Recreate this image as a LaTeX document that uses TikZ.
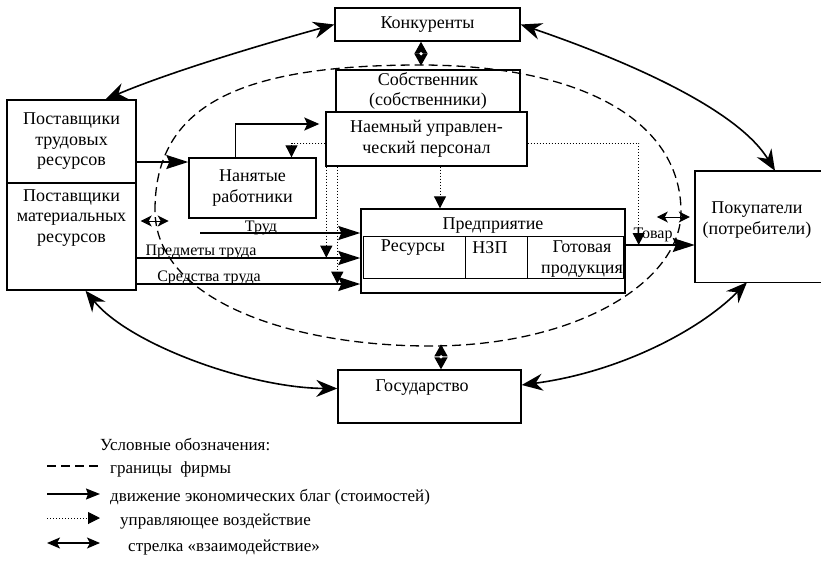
\documentclass[tikz,border=0pt]{standalone}
\usepackage{fontspec}
\setmainfont{Liberation Serif}
\usetikzlibrary{arrows.meta,calc}
\newcommand\mfont{\fontsize{18}{20.5}\selectfont}
\newcommand\lfont{\fontsize{16}{18}\selectfont}
\newcommand\gfont{\fontsize{17}{19}\selectfont}
\begin{document}
\begin{tikzpicture}[x=1pt,y=-1pt,
  box/.style={draw, line width=1.4pt, inner sep=0pt, align=center, font=\mfont},
  txt/.style={inner sep=0pt, align=center, font=\mfont},
  lab/.style={inner sep=0pt, anchor=base, font=\lfont},
  leg/.style={inner sep=0pt, anchor=west, font=\gfont},
  goods/.style={line width=1.4pt, -{Stealth[length=22pt,width=14pt,inset=3pt]}},
  goodsS/.style={line width=1.4pt, -{Stealth[length=15pt,width=13pt,inset=3pt]}},
  ctrl/.style={dotted, line width=1pt, -{Triangle[length=12pt,width=12pt]}},
  inter/.style={line width=1.6pt, {Stealth[length=21pt,width=17pt,inset=7pt]}-{Stealth[length=21pt,width=17pt,inset=7pt]}},
  interS/.style={line width=1pt, {Stealth[length=11pt,width=11pt,inset=3pt]}-{Stealth[length=11pt,width=11pt,inset=3pt]}},
  dia/.style={line width=1.4pt, {Triangle[length=12pt,width=13pt]}-{Triangle[length=12pt,width=13pt]}},
  border/.style={dash pattern=on 9pt off 5pt, line width=1.3pt}]
\useasboundingbox (0,0) rectangle (821,570);

% firm boundary
\draw[border] (155,210) .. controls (155,105) and (240,65) .. (420,65)
  .. controls (580,65) and (681,120) .. (681,212)
  .. controls (681,280) and (580,346) .. (430,346)
  .. controls (290,346) and (155,300) .. (155,210);

% boxes
\node[box, minimum width=185, minimum height=33] (konk) at (427.5,24.5) {Конкуренты};
\node[box, minimum width=184, minimum height=42] (sob) at (428,91) {Собственник\\(собственники)};
\node[box, fill=white, minimum width=201, minimum height=54] (nup) at (426.5,139) {Наемный управлен-\\ческий персонал};
\node[box, minimum width=129, minimum height=83] (pt) at (71.5,141.5) {Поставщики\\трудовых\\ресурсов};
\node[box, minimum width=129, minimum height=107] (pm) at (71.5,236.5) {};
\node[txt] (pmt) at (71.5,218) {Поставщики\\материальных\\ресурсов};
\node[box, minimum width=127, minimum height=60] (nr) at (252.5,188) {Нанятые\\работники};
\node[box, minimum width=264, minimum height=84] (pr) at (493,251) {};
\node[txt] (prt) at (493,226) {Предприятие};
\draw[line width=1pt] (363,236) rectangle (623,278);
\draw[line width=1pt] (465,236) -- (465,278) (527,236) -- (527,278);
\node[txt] (res) at (413,248) {Ресурсы};
\node[txt] (nzp) at (490,248) {НЗП};
\node[txt] (gp) at (582,259) {Готовая\\продукция};
\node[minimum width=126, minimum height=111, inner sep=0pt] (buy) at (758,226.5) {};
\draw[line width=1.4pt] (buy.north east) -- (buy.north west) -- (buy.south west) -- (buy.south east);
\node[txt] (buyt) at (757,220) {Покупатели\\(потребители)};
\node[box, minimum width=183, minimum height=53] (gos) at (429.5,396.5) {};
\node[txt] (gost) at (422,388) {Государство};

% goods flows
\draw[goods] ($(pt.east)+(0,20.5)$) coordinate (a1) -- (a1 -| nr.west);
\draw[goodsS, shorten >=6pt] ($(nr.north)+(-17,0)$) |- ($(nup.west)+(0,-15)$);
\coordinate (trud) at (200,233);
\draw[goods] (trud) -- (trud -| pr.west);
\draw[goods] ($(pm.east)+(0,21.5)$) coordinate (pd) -- (pd -| pr.west);
\draw[goods] ($(pm.east)+(0,47.5)$) coordinate (sd) -- (sd -| pr.west);
\draw[goods] ($(pr.east)+(0,-6)$) coordinate (tv) -- (tv -| buy.west);
\node[lab] (ltrud) at (261,231) {Труд};
\node[lab] (lpd) at (201,255) {Предметы труда};
\node[lab] (lsd) at (209,281) {Средства труда};
\node[lab] (ltv) at (653,238) {Товар};

% control
\draw[ctrl] ($(nup.west)+(0,4)$) -| ($(nr.north)+(39,0)$);
\draw[ctrl] ($(nup.south west)+(1,0)$) -- ++(0,91);
\draw[ctrl] ($(nup.south west)+(12,0)$) -- ++(0,117);
\draw[ctrl] ($(nup.south)+(13.5,0)$) coordinate (d3) -- (d3 |- pr.north);
\draw[ctrl] ($(nup.east)+(0,4)$) -| ($(tv)+(13,0)$);

% interaction
\draw[inter] (konk.west) .. controls (260,45) and (170,72) .. ($(pt.north)+(34,0)$);
\draw[inter] (konk.east) .. controls (610,55) and (735,105) .. ($(buy.north)+(17,0)$);
\draw[inter] ($(pm.south)+(14,0)$) .. controls (130,345) and (250,388) .. ($(gos.west)+(0,-8)$);
\draw[inter] ($(gos.east)+(0,-11.5)$) .. controls (620,372) and (700,330) .. ($(buy.south)+(-11,0)$);
\draw[dia] ($(konk.south)+(-6.5,0)$) -- ++(0,24);
\fill[white] ($(konk.south)+(-6.5,12)$) circle (1.8);
\draw[dia] ($(gos.north)+(11.5,0)$) -- ++(0,-25);
\fill[white] ($(gos.north)+(11.5,-12.5)$) circle (1.8);
\draw[interS] ($(pm.east)+(4,-15.5)$) -- ++(28,0);
\draw[interS] ($(buy.west)+(-38,-9.5)$) -- ++(33,0);

% legend
\node[leg] (lt) at (100,445) {Условные обозначения:};
\coordinate (l1a) at (47,466); \coordinate (l1b) at (100,466);
\draw[border] (l1a) -- (l1b);
\node[leg] (lt1) at (110,469) {границы\ \ фирмы};
\coordinate (l2a) at (47,494); \coordinate (l2b) at (100,494);
\draw[line width=1.4pt, -{Stealth[length=14pt,width=11pt,inset=2pt]}] (l2a) -- (l2b);
\node[leg] (lt2) at (110,497) {движение экономических благ (стоимостей)};
\coordinate (l3a) at (47,518); \coordinate (l3b) at (100,518);
\draw[ctrl] (l3a) -- (l3b);
\node[leg] (lt3) at (120,522) {управляющее воздействие};
\coordinate (l4a) at (47,543); \coordinate (l4b) at (100,543);
\draw[line width=1.4pt, {Stealth[length=13pt,width=11pt,inset=3pt]}-{Stealth[length=13pt,width=11pt,inset=3pt]}] (l4a) -- (l4b);
\node[leg] (lt4) at (128,547) {стрелка «взаимодействие»};
\end{tikzpicture}
\end{document}
